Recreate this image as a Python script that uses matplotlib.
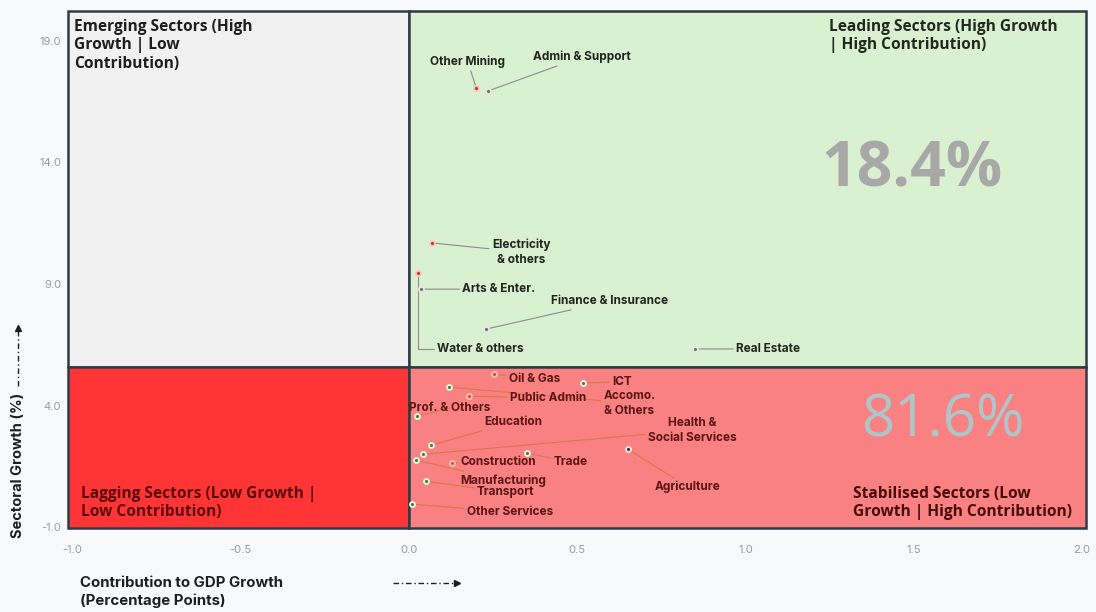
import numpy as np
import matplotlib
matplotlib.use("Agg")
import matplotlib.pyplot as plt
from matplotlib.patches import Rectangle
from matplotlib.lines import Line2D

# data
sectors = ["Other Mining", "Admin & Support", "Electricity\n& others", "Arts & Enter.",
           "Water & others", "Finance & Insurance", "Real Estate",
           "Oil & Gas", "ICT", "Accomo.\n& Others", "Public Admin", "Prof. & Others",
           "Education", "Health &\nSocial Services", "Construction", "Trade",
           "Manufacturing", "Transport", "Other Services", "Agriculture"]
contribution = [0.20, 0.235, 0.07, 0.035, 0.027, 0.23, 0.85,
                0.253, 0.517, 0.119, 0.178, 0.024, 0.065, 0.042, 0.128, 0.351,
                0.021, 0.05, 0.008, 0.651]
growth = [17.07, 16.94, 10.69, 8.79, 9.45, 7.15, 6.33,
          5.30, 4.93, 4.76, 4.39, 3.57, 2.37, 2.00, 1.63, 2.05,
          1.76, 0.89, -0.05, 2.21]
growth_cut = 5.6
contrib_cut = 0.0
share_leading = "18.4%"
share_stabilised = "81.6%"

xticks = [-1.0, -0.5, 0.0, 0.5, 1.0, 1.5, 2.0]
yticks = [-1.0, 4.0, 9.0, 14.0, 19.0]

# layout: where each label sits, and the dot style
label_pos = [(0.175, 18.14), (0.514, 18.34), (0.333, 10.32), (0.267, 8.79),
             (0.211, 6.33), (0.597, 8.30), (1.067, 6.33),
             (0.374, 5.09), (0.633, 4.98), (0.655, 4.10), (0.413, 4.31), (0.122, 3.90),
             (0.309, 3.32), (0.841, 2.99), (0.265, 1.67), (0.481, 1.67),
             (0.280, 0.93), (0.288, 0.44), (0.300, -0.38), (0.829, 0.65)]
dot_kind = ["red", "grey", "red", "grey", "red", "grey", "grey",
            "orange", "green", "green", "orange", "green", "green", "green", "orange", "green",
            "green", "green", "green", "navy"]
dot_colors = {"red": ("#C0392B", "#F6C9BE"), "grey": ("#6F6F6F", "#E5EBE2"),
              "orange": ("#D0502A", "#F7C3B0"), "green": ("#2E8B3A", "#E9F6E4"),
              "navy": ("#2B3550", "#F1E8EC")}
elbow = {"Water & others": "angle,angleA=0,angleB=90,rad=0"}

xmin, xmax = -1.013, 2.012
ymin, ymax = -1.04, 20.23

fig = plt.figure(figsize=(10.96, 6.12), dpi=100, facecolor="#F7F9FB")
ax = fig.add_axes([0.062, 0.137, 0.929, 0.845])
ax.set_facecolor("#F7F9FB")
ax.set_xlim(xmin, xmax)
ax.set_ylim(ymin, ymax)

edge = "#2E3B45"
boxes = [((xmin, growth_cut), contrib_cut - xmin, ymax - growth_cut, "#F1F1F1"),
         ((contrib_cut, growth_cut), xmax - contrib_cut, ymax - growth_cut, "#D9F1D0"),
         ((xmin, ymin), contrib_cut - xmin, growth_cut - ymin, "#FF3434"),
         ((contrib_cut, ymin), xmax - contrib_cut, growth_cut - ymin, "#F98181")]
for xy, w, h, c in boxes:
    ax.add_patch(Rectangle(xy, w, h, facecolor=c, edgecolor=edge, lw=1.8,
                           clip_on=False, zorder=1))

for s in ax.spines.values():
    s.set_visible(False)
ax.set_xticks(xticks)
ax.set_xticklabels([f"{v:.1f}" for v in xticks])
ax.set_yticks(yticks)
ax.set_yticklabels([f"{v:.1f}" for v in yticks])
ax.tick_params(length=0, labelsize=8, colors="#9A9A9A")
ax.tick_params(axis="x", pad=12)
ax.tick_params(axis="y", pad=5)
for t in ax.get_xticklabels() + ax.get_yticklabels():
    t.set_family("Inter")

# quadrant titles
qfont = dict(family="Open Sans", weight="bold", fontsize=11.2, linespacing=1.2)
ax.text(0.006, 0.985, "Emerging Sectors (High\nGrowth | Low\nContribution)",
        transform=ax.transAxes, ha="left", va="top", color="#1E1E1E", **qfont)
ax.text(0.747, 0.985, "Leading Sectors (High Growth\n| High Contribution)",
        transform=ax.transAxes, ha="left", va="top", color="#1E2A1E", **qfont)
ax.text(0.013, 0.015, "Lagging Sectors (Low Growth |\nLow Contribution)",
        transform=ax.transAxes, ha="left", va="bottom", color="#5A0A0A", **qfont)
ax.text(0.771, 0.015, "Stabilised Sectors (Low\nGrowth | High Contribution)",
        transform=ax.transAxes, ha="left", va="bottom", color="#4A0A0A", **qfont)

ax.text(1.495, 13.7, share_leading, ha="center", va="center", fontsize=45,
        family="Open Sans", weight="bold", color="#A8A8A8", zorder=2)
ax.text(1.587, 3.35, share_stabilised, ha="center", va="center", fontsize=42,
        family="Open Sans", color="#AEC6CA", zorder=2)

# sectors: dots, labels, leaders
for name, xv, yv, (lx, ly), kind in zip(sectors, contribution, growth, label_pos, dot_kind):
    upper = yv > growth_cut
    tcol = "#1E261E" if upper else "#5C1414"
    lcol = "#8C8C8C" if upper else "#D9774F"
    ax.annotate(name, xy=(xv, yv), xytext=(lx, ly), ha="center", va="center",
                fontsize=8.5, family="Inter", weight="bold", color=tcol,
                linespacing=1.3, zorder=4,
                arrowprops=dict(arrowstyle="-", color=lcol, lw=0.8,
                                shrinkA=0, shrinkB=2,
                                connectionstyle=elbow.get(name, "arc3")))
    fc, ec = dot_colors[kind]
    ax.plot(xv, yv, "o", ms=3.6, mfc=fc, mec=ec, mew=1.3, zorder=5)

# axis titles with dash-dot arrows
fig.text(0.073, 0.033, "Contribution to GDP Growth\n(Percentage Points)",
         ha="left", va="center", fontsize=10.8, family="Inter", weight="bold",
         color="#1E1E1E", linespacing=1.3)
fig.add_artist(Line2D([393 / 1096, 455 / 1096], [1 - 583 / 612] * 2,
                      ls=(0, (4, 2, 1, 2)), lw=1, color="#1E1E1E"))
fig.add_artist(Line2D([457 / 1096], [1 - 583 / 612], marker=">", ms=5,
                      color="#1E1E1E", ls="none"))

fig.text(0.016, 0.24, "Sectoral Growth (%)", rotation=90, ha="center", va="center",
         fontsize=10.5, family="Inter", weight="bold", color="#1E1E1E")
fig.add_artist(Line2D([18 / 1096] * 2, [1 - 386 / 612, 1 - 330 / 612],
                      ls=(0, (4, 2, 1, 2)), lw=1, color="#1E1E1E"))
fig.add_artist(Line2D([18 / 1096], [1 - 328 / 612], marker="^", ms=5,
                      color="#1E1E1E", ls="none"))

fig.savefig("out.png", dpi=100, facecolor=fig.get_facecolor())
